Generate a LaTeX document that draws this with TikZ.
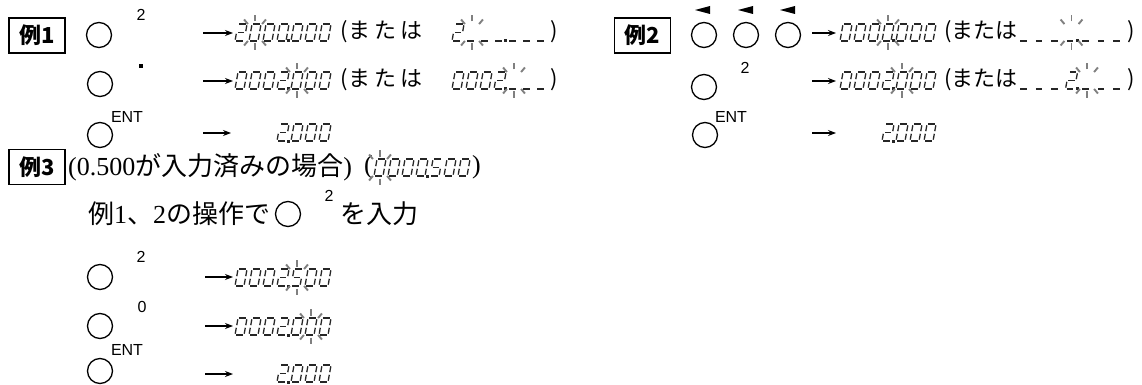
\documentclass[tikz,border=0pt]{standalone}
\usepackage{fontspec}
\setmainfont{Liberation Serif}
\newfontfamily\cjk{Noto Sans CJK JP}
\newfontfamily\lab{Liberation Sans}
\usetikzlibrary{arrows.meta}
\tikzset{
  seg/.style={line width=1.3pt, line cap=butt, draw=black!85},
  key/.style={circle, draw, line width=1.3pt, minimum size=25pt, inner sep=0pt},
  klab/.style={font=\lab\fontsize{16}{16}\selectfont, inner sep=0pt},
  exbox/.style={draw, line width=1.4pt, minimum width=56pt, minimum height=35pt, inner sep=0pt, font=\cjk\bfseries\fontsize{22}{22}\selectfont},
  jtext/.style={font=\cjk\fontsize{22}{22}\selectfont, inner sep=0pt, anchor=west},
  stext/.style={font=\fontsize{26}{26}\selectfont, inner sep=0pt, anchor=west},
  arr/.style={-{Stealth[length=8pt,width=6pt]}, line width=1.2pt},
  blinkline/.style={line width=1.9pt, draw=black!50},
  dotkey/.style={fill, minimum size=4pt, inner sep=0pt},
}
% seven segment helpers (x0, ybot, u1, v1, u2, v2)
\newcommand{\sgl}[6]{\draw[seg] ({#1+#3+0.18*#4},{#2-#4}) -- ({#1+#5+0.18*#6},{#2-#6});}
\newcommand{\sA}[2]{\sgl{#1}{#2}{1.3}{17}{7.7}{17}}
\newcommand{\sB}[2]{\sgl{#1}{#2}{9}{15.7}{9}{9.8}}
\newcommand{\sC}[2]{\sgl{#1}{#2}{9}{7.2}{9}{1.3}}
\newcommand{\sD}[2]{\sgl{#1}{#2}{1.3}{0}{7.7}{0}}
\newcommand{\sE}[2]{\sgl{#1}{#2}{0}{1.3}{0}{7.2}}
\newcommand{\sF}[2]{\sgl{#1}{#2}{0}{9.8}{0}{15.7}}
\newcommand{\sG}[2]{\sgl{#1}{#2}{1.3}{8.5}{7.7}{8.5}}
\newcommand{\dZ}[2]{\sA{#1}{#2}\sB{#1}{#2}\sC{#1}{#2}\sD{#1}{#2}\sE{#1}{#2}\sF{#1}{#2}}
\newcommand{\dT}[2]{\sA{#1}{#2}\sB{#1}{#2}\sG{#1}{#2}\sE{#1}{#2}\sD{#1}{#2}}
\newcommand{\dV}[2]{\sA{#1}{#2}\sF{#1}{#2}\sG{#1}{#2}\sC{#1}{#2}\sD{#1}{#2}}
\newcommand{\dN}[2]{\sD{#1}{#2}}
\newcommand{\dS}[2]{}
\newcommand{\disp}[4]{%
  \foreach \dc [count=\di from 0] in {#4}{\csname d\dc\endcsname{#1+\di*#3}{#2}}%
  \fill[black!85] ({#1+3*#3+(#3+9)/2-1.5},{#2-1.5}) rectangle ++(3,3);}
\newcommand{\blinkat}[4]{%
  \foreach \ang/\ra/\rb in {90/11/17.5,50/11/17,130/11/17,270/11/17.5,230/11/17,310/11/17}
   \draw[blinkline] ({#1+#4*#3+6+\ra*cos(\ang)},{#2-8.5-\ra*sin(\ang)}) -- ({#1+#4*#3+6+\rb*cos(\ang)},{#2-8.5-\rb*sin(\ang)});}
\begin{document}
\begin{tikzpicture}[x=1pt,y=-1pt]
\useasboundingbox (0,0) rectangle (1142,385);
% ---------------- Example 1
\node[exbox] (b1) at (37,35.5) {例1};
\node[key] (k11) at (99,35) {};
\node[klab] (l11) at (141,15) {2};
\coordinate (s11) at (203,33); \coordinate (e11) at (233,33);
\draw[arr] (s11) -- (e11);
\disp{235}{41}{14}{T,Z,Z,Z,Z,Z,Z}\blinkat{235}{41}{14}{1}
\node[jtext] (t11) at (340,32) {(\hspace{1pt}ま\hspace{4pt}た\hspace{4pt}は};
\disp{452}{41}{14}{T,N,N,N,N,N,N}\blinkat{452}{41}{14}{1}
\node[jtext] (p11) at (550,32) {)};
%
\node[key] (k12) at (100,84) {};
\node[dotkey] (l12) at (141,66) {};
\coordinate (s12) at (203,81); \coordinate (e12) at (233,81);
\draw[arr] (s12) -- (e12);
\disp{235}{89}{14}{Z,Z,Z,T,Z,Z,Z}\blinkat{235}{89}{14}{4}
\node[jtext] (t12) at (340,80) {(\hspace{1pt}ま\hspace{4pt}た\hspace{4pt}は};
\disp{452}{89}{14}{Z,Z,Z,T,N,N,N}\blinkat{452}{89}{14}{4}
\node[jtext] (p12) at (550,80) {)};
%
\node[key] (k13) at (100,135) {};
\node[klab] (l13) at (127,117) {ENT};
\coordinate (s13) at (203,133); \coordinate (e13) at (231,133);
\draw[arr] (s13) -- (e13);
\disp{235}{141}{14}{S,S,S,T,Z,Z,Z}
% ---------------- Example 2
\node[exbox] (b2) at (642.5,35.5) {例2};
\fill (695,10) -- (710,6) -- (710,14) -- cycle;
\fill (738,10) -- (753,6) -- (753,14) -- cycle;
\fill (780,10) -- (795,6) -- (795,14) -- cycle;
\node[key] (k21a) at (704,35) {};
\node[key] (k21b) at (746,35) {};
\node[key] (k21c) at (788,35) {};
\coordinate (s21) at (812,33); \coordinate (e21) at (836,33);
\draw[arr] (s21) -- (e21);
\disp{840}{41}{14}{Z,Z,Z,Z,Z,Z,Z}\blinkat{840}{41}{14}{3}
\node[jtext] (t21) at (944,32) {(または};
\disp{1019}{41}{15.5}{N,N,N,N,N,N,N}\blinkat{1019}{41}{15.5}{3}
\node[jtext] (p21) at (1127,32) {)};
%
\node[key] (k22) at (704,87) {};
\node[klab] (l22) at (745,68) {2};
\coordinate (s22) at (812,81); \coordinate (e22) at (836,81);
\draw[arr] (s22) -- (e22);
\disp{840}{89}{14}{Z,Z,Z,T,Z,Z,Z}\blinkat{840}{89}{14}{4}
\node[jtext] (t22) at (944,80) {(または};
\disp{1019}{89}{15.5}{N,N,N,T,N,N,N}\blinkat{1019}{89}{15.5}{4}
\node[jtext] (p22) at (1127,80) {)};
%
\node[key] (k23) at (705,135) {};
\node[klab] (l23) at (731,117) {ENT};
\coordinate (s23) at (812,133); \coordinate (e23) at (836,133);
\draw[arr] (s23) -- (e23);
\disp{840}{141}{14}{S,S,S,T,Z,Z,Z}
% ---------------- Example 3
\node[exbox] (b3) at (37,167) {例3};
\node[stext] (t30) at (68,167) {(0.500{\cjk が入力済みの場合})};
\node[stext] (t30a) at (364,167) {(};
\disp{374}{176}{14}{Z,Z,Z,Z,V,Z,Z}\blinkat{374}{176}{14}{0}
\node[stext] (t30b) at (472,167) {)};
%
\node[stext] (t31) at (88,214) {{\cjk 例}1{\cjk 、}2{\cjk の操作で}};
\node[key] (k31) at (288,214) {};
\node[klab] (l31) at (329,196) {2};
\node[stext] (t32) at (340,214) {{\cjk を入力}};
%
\node[key] (k32) at (100,277) {};
\node[klab] (l32) at (141,257) {2};
\coordinate (s32) at (205,277); \coordinate (e32) at (233,277);
\draw[arr] (s32) -- (e32);
\disp{235}{286}{14}{Z,Z,Z,T,V,Z,Z}\blinkat{235}{286}{14}{4}
%
\node[key] (k33) at (100,326) {};
\node[klab] (l33) at (142,307) {0};
\coordinate (s33) at (205,326); \coordinate (e33) at (233,326);
\draw[arr] (s33) -- (e33);
\disp{235}{335}{14}{Z,Z,Z,T,Z,Z,Z}\blinkat{235}{335}{14}{5}
%
\node[key] (k34) at (100,371) {};
\node[klab] (l34) at (127,350) {ENT};
\coordinate (s34) at (205,374); \coordinate (e34) at (233,374);
\draw[arr] (s34) -- (e34);
\disp{235}{382}{14}{S,S,S,T,Z,Z,Z}
\end{tikzpicture}
\end{document}
